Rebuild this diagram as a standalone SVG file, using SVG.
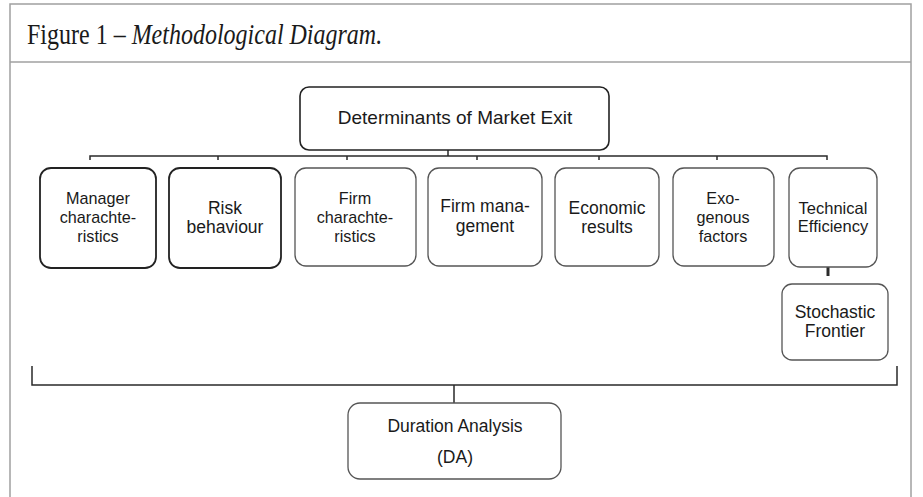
<svg xmlns="http://www.w3.org/2000/svg" width="923" height="497" viewBox="0 0 923 497">
<style>
.frame{fill:none;stroke:#a0a0a0;stroke-width:1.5}
.box{fill:#fff;stroke:#555;stroke-width:1.3}
.bold{stroke:#222;stroke-width:1.8}
.t{font-family:"Liberation Sans",Arial,sans-serif;font-size:17.5px;fill:#1a1a1a;text-anchor:middle}
.s{font-size:16.2px}
.c{fill:none;stroke:#2a2a2a;stroke-width:1.5}
.title{font-family:"Liberation Serif","Times New Roman",serif;font-size:24px;fill:#1a1a1a}
</style>
<rect width="923" height="497" fill="#fff"/>
<g id="frame">
<rect class="frame" x="10" y="4" width="901" height="510"/>
<line class="frame" x1="10" y1="62" x2="911" y2="62"/>
<text class="title" transform="translate(27,44) scale(1,1.2)">Figure 1 – <tspan font-style="italic">Methodological Diagram.</tspan></text>
</g>
<g id="connectors">
<path class="c" d="M448 150V156M90 160V156H827V160M218 156V160M347 156V160M477 156V160M599 156V160M717 156V160"/>
<line x1="828" y1="267" x2="828" y2="276" stroke="#2a2a2a" stroke-width="3"/>
<path class="c" d="M32 366V385H897V366M454 385V403"/>
</g>
<g id="n-top"><rect class="box bold" x="300" y="87" width="309" height="63" rx="9" style="stroke-width:1.6"/><text class="t" x="455" y="124" style="font-size:19px">Determinants of Market Exit</text></g>
<g id="n1"><rect class="box bold" x="40" y="168" width="116" height="100" rx="11"/><text class="t s" x="98" y="204">Manager</text><text class="t s" x="98" y="223">charachte-</text><text class="t s" x="98" y="242">ristics</text></g>
<g id="n2"><rect class="box bold" x="169" y="168" width="112" height="100" rx="11"/><text class="t" x="225" y="214">Risk</text><text class="t" x="225" y="233">behaviour</text></g>
<g id="n3"><rect class="box" x="295" y="168" width="121" height="98" rx="11"/><text class="t s" x="355" y="204">Firm</text><text class="t s" x="355" y="223">charachte-</text><text class="t s" x="355" y="242">ristics</text></g>
<g id="n4"><rect class="box" x="428" y="168" width="114" height="98" rx="11"/><text class="t" x="485" y="212">Firm mana-</text><text class="t" x="485" y="232">gement</text></g>
<g id="n5"><rect class="box" x="555" y="168" width="104" height="98" rx="11"/><text class="t" x="607" y="214">Economic</text><text class="t" x="607" y="233">results</text></g>
<g id="n6"><rect class="box" x="673" y="168" width="101" height="98" rx="11"/><text class="t s" x="723" y="204">Exo-</text><text class="t s" x="723" y="223">genous</text><text class="t s" x="723" y="242">factors</text></g>
<g id="n7"><rect class="box" x="789" y="168" width="88" height="99" rx="11"/><text class="t" x="833" y="214" style="font-size:16.5px">Technical</text><text class="t" x="833" y="232" style="font-size:16.5px">Efficiency</text></g>
<g id="n8"><rect class="box" x="782" y="284" width="106" height="76" rx="10"/><text class="t" x="835" y="318">Stochastic</text><text class="t" x="835" y="337">Frontier</text></g>
<g id="n9"><rect class="box" x="348" y="403" width="213" height="76" rx="12"/><text class="t" x="455" y="432">Duration Analysis</text><text class="t" x="455" y="463">(DA)</text></g>
</svg>
